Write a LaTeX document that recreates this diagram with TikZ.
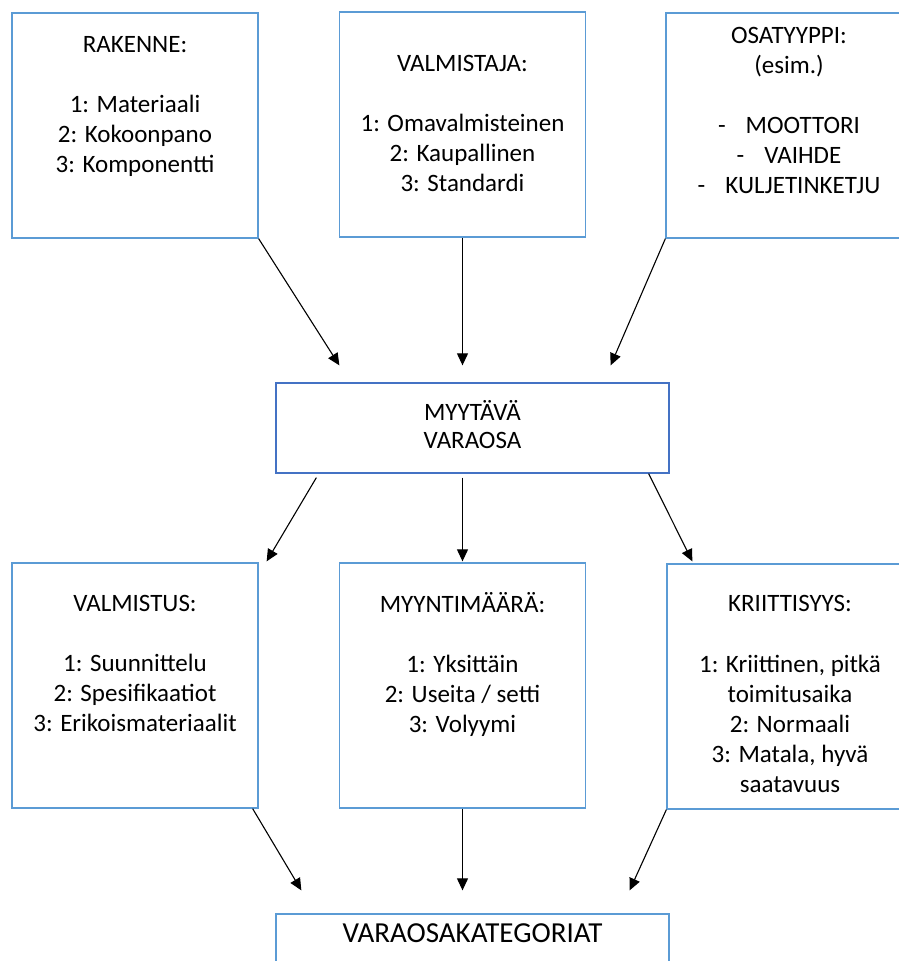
\documentclass[tikz,border=0pt]{standalone}
\usepackage{fontspec}
\setmainfont{Carlito}
\usetikzlibrary{calc,arrows.meta}
\definecolor{boxblue}{HTML}{5B9BD5}
\definecolor{boxblue2}{HTML}{4472C4}
\begin{document}
\begin{tikzpicture}[x=1pt,y=-1pt,
  box/.style={draw=boxblue, line width=1.3pt, rectangle, inner sep=0pt, fill=white},
  topbox/.style={box, minimum width=246pt, minimum height=225pt},
  lowbox/.style={box, minimum width=246pt, minimum height=245pt},
  widebox/.style={box, minimum width=393pt, minimum height=90pt},
  txt/.style={font=\fontsize{25}{30}\selectfont, align=center, inner sep=0pt, anchor=north, text=black},
  arr/.style={-{Triangle[length=12pt,width=11pt]}, line width=1.1pt, black}]
\useasboundingbox (0,0) rectangle (899,961);
\clip (0,0) rectangle (899,961);
% boxes
\node[topbox] (rak) at (135,125.5) {};
\node[topbox] (valm) at (462.5,124.5) {};
\node[topbox] (osa) at (789,125.5) {};
\node[widebox, draw=boxblue2] (myy) at (472.5,428) {};
\node[lowbox] (valmistus) at (135,685.5) {};
\node[lowbox] (maara) at (462.5,685.5) {};
\node[lowbox] (krit) at (790,686.5) {};
\node[widebox] (cat) at (472.5,959) {};
% texts
\node[txt] (rakT) at (135,31) {\strut RAKENNE:\\[30pt]1: Materiaali\\2: Kokoonpano\\3: Komponentti};
\node[txt] (valmT) at (462.5,50) {\strut VALMISTAJA:\\[30pt]1: Omavalmisteinen\\2: Kaupallinen\\3: Standardi};
\node[txt] (osaT) at (789,22) {\strut OSATYYPPI:\\(esim.)\\[30pt]-\hspace{20pt}MOOTTORI\\-\hspace{20pt}VAIHDE\\-\hspace{20pt}KULJETINKETJU};
\node[txt, font=\fontsize{25}{28}\selectfont] (myyT) at (472.5,400) {\strut MYYTÄVÄ\\VARAOSA};
\node[txt] (valmistusT) at (135,590) {\strut VALMISTUS:\\[30pt]1: Suunnittelu\\2: Spesifikaatiot\\3: Erikoismateriaalit};
\node[txt] (maaraT) at (462.5,591) {\strut MYYNTIMÄÄRÄ:\\[30pt]1: Yksittäin\\2: Useita / setti\\3: Volyymi};
\node[txt] (kritT) at (790,590) {\strut KRIITTISYYS:\\[31pt]1: Kriittinen, pitkä\\toimitusaika\\2: Normaali\\3: Matala, hyvä\\saatavuus};
\node[font=\fontsize{29}{35}\selectfont, inner sep=0pt, anchor=base, text=black] (catT) at (472.5,942) {VARAOSAKATEGORIAT};
% arrows top row
\draw[arr] (rak.south east) -- ($(myy.north west)+(64,-17)$);
\draw[arr] (valm.south) -- ($(valm.south |- myy.north)+(0,-17)$);
\draw[arr] (osa.south west) -- ($(myy.north east)+(-59,-17)$);
% arrows middle row
\draw[arr] ($(myy.south west)+(41,4)$) -- ($(valmistus.north east)+(8,-1)$);
\draw[arr] ($(maara.north |- myy.south)+(0,4)$) -- ($(maara.north)+(0,-1)$);
\draw[arr] ($(myy.south east)+(-21,0)$) -- ($(krit.north west)+(26,-2)$);
% arrows bottom row
\draw[arr] ($(valmistus.south east)+(-6,0)$) -- ($(cat.north west)+(26,-23)$);
\draw[arr] (maara.south) -- ($(maara.south |- cat.north)+(0,-23)$);
\draw[arr] (krit.south west) -- ($(cat.north east)+(-40,-23)$);
\end{tikzpicture}
\end{document}
